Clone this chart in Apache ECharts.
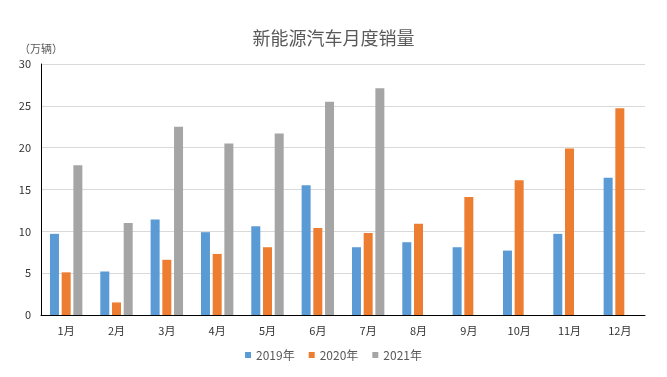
<!DOCTYPE html>
<html>
<head>
<meta charset="utf-8">
<script src="https://cdn.jsdelivr.net/npm/echarts@6/dist/echarts.min.js"></script>
<style>
    html, body { margin: 0; padding: 0; background: #fff; }
    #chart { width: 667px; height: 377px; }
</style>
</head>
<body>
<div id="chart"></div>
<script>
const months = ['1月', '2月', '3月', '4月', '5月', '6月', '7月', '8月', '9月', '10月', '11月', '12月'];
const sales2019 = [9.7, 5.2, 11.4, 9.9, 10.6, 15.5, 8.1, 8.7, 8.1, 7.7, 9.7, 16.4];
const sales2020 = [5.1, 1.5, 6.6, 7.3, 8.1, 10.4, 9.8, 10.9, 14.1, 16.1, 19.9, 24.7];
const sales2021 = [17.9, 11.0, 22.5, 20.5, 21.7, 25.5, 27.1, null, null, null, null, null];
const yTicks = [0, 30, 5];

const font = '"Noto Sans CJK SC", "Microsoft YaHei", sans-serif';
const myChart = echarts.init(document.getElementById('chart'));

function bar(name, data, color) {
    return {
        name: name,
        type: 'bar',
        data: data,
        barWidth: 9,
        barGap: '30%',
        itemStyle: { color: color }
    };
}

myChart.setOption({
    animation: false,
    textStyle: { fontFamily: font },
    title: {
        text: '新能源汽车月度销量',
        left: 'center',
        top: 24,
        textStyle: { fontSize: 18, fontWeight: 'normal', color: '#595959', fontFamily: font }
    },
    legend: {
        bottom: 11,
        left: 'center',
        itemWidth: 6,
        itemHeight: 6,
        itemGap: 14,
        icon: 'rect',
        textStyle: { fontSize: 12, color: '#595959', fontFamily: font }
    },
    grid: {
        left: 41,
        right: 22,
        top: 64,
        bottom: 62
    },
    xAxis: {
        type: 'category',
        data: months,
        axisLine: { lineStyle: { color: '#000', width: 1 } },
        axisTick: { show: false },
        axisLabel: { color: '#333', fontSize: 11, margin: 10 }
    },
    yAxis: {
        type: 'value',
        min: yTicks[0],
        max: yTicks[1],
        interval: yTicks[2],
        name: '（万辆）',
        nameLocation: 'end',
        nameGap: 10,
        nameTextStyle: { color: '#595959', fontSize: 11, align: 'center' },
        axisLine: { show: true, lineStyle: { color: '#000', width: 1 } },
        axisTick: { show: false },
        axisLabel: { color: '#333', fontSize: 11, margin: 10 },
        splitLine: { lineStyle: { color: '#d9d9d9' } }
    },
    series: [
        bar('2019年', sales2019, '#5b9bd5'),
        bar('2020年', sales2020, '#ed7d31'),
        bar('2021年', sales2021, '#a5a5a5')
    ]
});
</script>
</body>
</html>
